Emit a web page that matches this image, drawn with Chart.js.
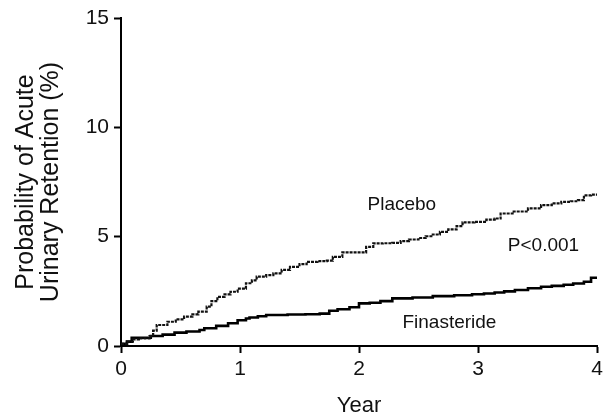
<!DOCTYPE html>
<html>
<head>
<meta charset="utf-8">
<script src="https://cdn.jsdelivr.net/npm/chart.js@4"></script>
<style>
  html, body { margin: 0; padding: 0; background: #fff; }
  #wrap { width: 607px; height: 417px; position: relative; }
</style>
</head>
<body>
<div id="wrap"><canvas id="km"></canvas></div>
<script>
// Kaplan-Meier style curves
const placeboYears = [0, 0.05, 0.10, 0.15, 0.24, 0.27, 0.30, 0.39, 0.46, 0.53, 0.60, 0.65, 0.72, 0.76, 0.81, 0.87, 0.92, 0.98,
  1.05, 1.10, 1.14, 1.22, 1.28, 1.35, 1.42, 1.50, 1.56, 1.65, 1.73, 1.78, 1.86, 1.95, 2.02, 2.06, 2.12, 2.20, 2.28, 2.35,
  2.42, 2.50, 2.56, 2.62, 2.68, 2.75, 2.82, 2.87, 2.97, 3.07, 3.14, 3.19, 3.30, 3.42, 3.53, 3.62, 3.70, 3.78, 3.84, 3.89, 3.95, 4.0];
const placeboPct = [0.1, 0.2, 0.3, 0.35, 0.45, 0.70, 0.96, 1.11, 1.22, 1.34, 1.45, 1.57, 1.80, 2.05, 2.25, 2.36, 2.48, 2.62,
  2.87, 3.0, 3.17, 3.24, 3.32, 3.48, 3.62, 3.74, 3.85, 3.88, 3.90, 4.08, 4.28, 4.28, 4.28, 4.53, 4.69, 4.70, 4.72, 4.80,
  4.87, 4.94, 5.02, 5.10, 5.22, 5.33, 5.48, 5.65, 5.68, 5.78, 5.83, 6.06, 6.15, 6.29, 6.44, 6.52, 6.59, 6.62, 6.67, 6.89, 6.92, 6.93];

const finYears = [0, 0.05, 0.09, 0.25, 0.35, 0.45, 0.55, 0.66, 0.70, 0.80, 0.90, 0.98, 1.05, 1.08, 1.15, 1.22, 1.40, 1.55,
  1.67, 1.75, 1.82, 1.92, 2.0, 2.09, 2.18, 2.28, 2.45, 2.62, 2.80, 2.95, 3.05, 3.14, 3.22, 3.31, 3.42, 3.53, 3.62, 3.72,
  3.80, 3.89, 3.95, 4.0];
const finPct = [0.1, 0.2, 0.38, 0.46, 0.52, 0.61, 0.66, 0.73, 0.81, 0.92, 1.04, 1.18, 1.26, 1.30, 1.36, 1.42, 1.44, 1.45,
  1.48, 1.61, 1.68, 1.77, 1.95, 1.98, 2.05, 2.18, 2.22, 2.28, 2.32, 2.37, 2.40, 2.45, 2.50, 2.56, 2.64, 2.71, 2.75, 2.80,
  2.86, 2.94, 3.12, 3.14];

const xTicks = [0, 1, 2, 3, 4];
const yTicks = [0, 5, 10, 15];
const seriesNames = ['Placebo', 'Finasteride'];
const pText = 'P<0.001';

const FONT = "'Liberation Sans', Arial, Helvetica, sans-serif";

const toXY = (xs, ys) => xs.map((x, i) => ({ x: x, y: ys[i] }));

// text labels placed in data units
const notes = [
  { text: seriesNames[0], x: 2.36, y: 6.44 },
  { text: pText, x: 3.55, y: 4.57 },
  { text: seriesNames[1], x: 2.76, y: 1.05 }
];

const notePlugin = {
  id: 'notes',
  afterDatasetsDraw(chart) {
    const ctx = chart.ctx;
    const xs = chart.scales.x, ys = chart.scales.y;
    ctx.save();
    ctx.fillStyle = '#111';
    ctx.font = '19px ' + FONT;
    ctx.textAlign = 'center';
    ctx.textBaseline = 'middle';
    notes.forEach(n => {
      ctx.fillText(n.text, xs.getPixelForValue(n.x), ys.getPixelForValue(n.y));
    });
    ctx.restore();
  }
};

const config = {
  type: 'line',
  data: {
    datasets: [{
      label: seriesNames[0],
      data: toXY(placeboYears, placeboPct),
      borderColor: '#111',
      borderWidth: 2.2,
      borderDash: [3, 1],
      stepped: true,
      pointRadius: 0,
      fill: false
    }, {
      label: seriesNames[1],
      data: toXY(finYears, finPct),
      borderColor: '#000',
      borderWidth: 2.6,
      stepped: true,
      pointRadius: 0,
      fill: false
    }]
  },
  options: {
    responsive: true,
    maintainAspectRatio: false,
    animation: false,
    layout: { padding: { top: 18, right: 10, left: 0, bottom: 0 } },
    plugins: {
      legend: { display: false },
      tooltip: { enabled: false }
    },
    scales: {
      x: {
        type: 'linear',
        min: 0,
        max: 4,
        afterBuildTicks: s => { s.ticks = xTicks.map(v => ({ value: v })); },
        afterFit: s => { s.height = 71; },
        grid: { drawOnChartArea: false, drawTicks: true, tickLength: 7, tickColor: '#000', tickWidth: 2 },
        border: { display: true, color: '#000', width: 2 },
        ticks: { color: '#111', font: { family: FONT, size: 21 }, padding: 4, maxRotation: 0 },
        title: { display: true, text: 'Year', color: '#111', font: { family: FONT, size: 22, lineHeight: 1 }, padding: { top: 4, bottom: 0 } }
      },
      y: {
        min: 0,
        max: 15,
        afterBuildTicks: s => { s.ticks = yTicks.map(v => ({ value: v })); },
        afterFit: s => { s.width = 121; },
        grid: { drawOnChartArea: false, drawTicks: true, tickLength: 7, tickColor: '#000', tickWidth: 2 },
        border: { display: true, color: '#000', width: 2 },
        ticks: { color: '#111', font: { family: FONT, size: 21 }, padding: 5 },
        title: {
          display: true,
          text: ['Probability of Acute', 'Urinary Retention (%)'],
          color: '#111',
          font: { family: FONT, size: 25, lineHeight: 1.0 },
          padding: { top: 14, bottom: 0 }
        }
      }
    }
  },
  plugins: [notePlugin]
};

new Chart(document.getElementById('km'), config);
</script>
</body>
</html>
